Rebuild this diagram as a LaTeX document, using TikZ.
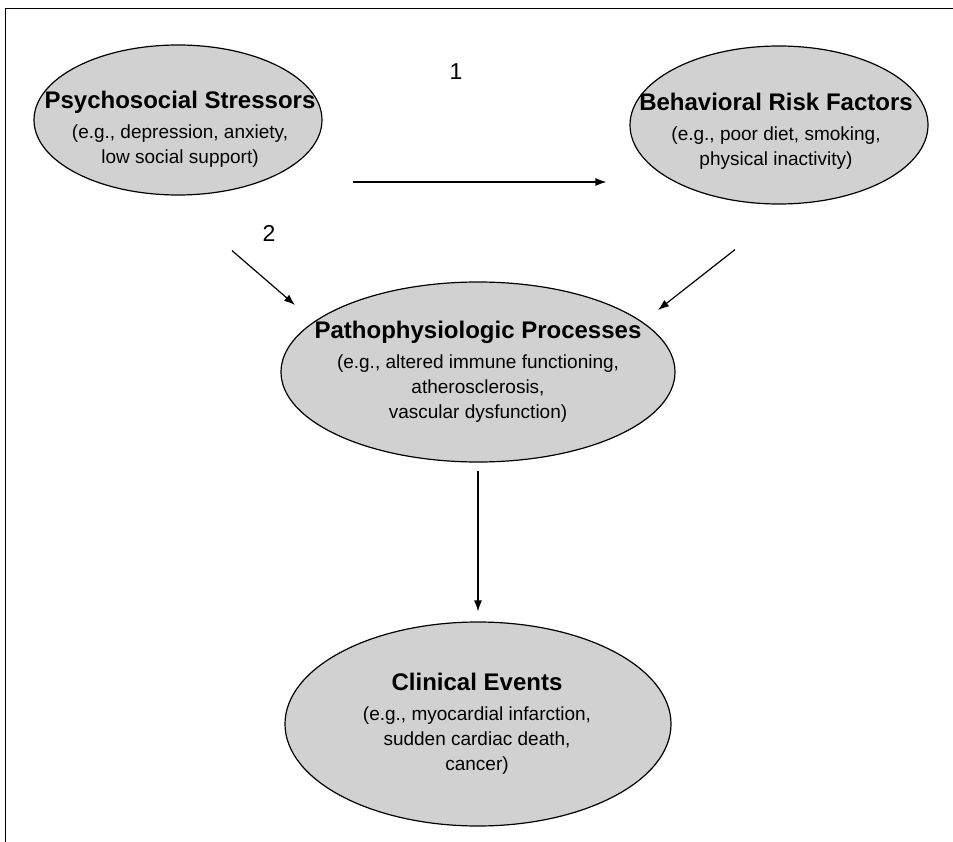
\documentclass[tikz,border=0pt]{standalone}
\usepackage{fontspec}
\setmainfont{Liberation Sans}
\usetikzlibrary{shapes.geometric, arrows.meta, calc, positioning}
\newcommand{\stagetitle}[1]{{\fontsize{24}{26}\selectfont\bfseries #1}\\[5pt]}

\begin{document}
\begin{tikzpicture}[x=1pt, y=-1pt, line width=1.2pt, >={Latex[length=11pt, width=8pt]},
                    stage/.style={ellipse, draw, fill=black!18, inner sep=0pt},
                    stagetext/.style={align=center, inner sep=0pt, font=\fontsize{19}{25}\selectfont},
                    numlabel/.style={font=\fontsize{23}{25}\selectfont}]
    \useasboundingbox (0,0) rectangle (953,842);

    % Frame
    \draw[line width=0.8pt] (953,8) -- (5,8) -- (5,842);

    % Ellipses
    \node[stage, minimum width=288pt, minimum height=150pt] (stress) at (178,120) {};
    \node[stage, minimum width=298pt, minimum height=158pt] (behav) at (779,125) {};
    \node[stage, minimum width=394pt, minimum height=180pt] (patho) at (478,372) {};
    \node[stage, minimum width=386pt, minimum height=204pt] (clinic) at (478,724) {};

    % Texts
    \node[stagetext] (stresstxt) at (180,129) {\stagetitle{Psychosocial Stressors}
        (e.g., depression, anxiety,\\ low social support)};
    \node[stagetext] (behavtxt) at (776,131) {\stagetitle{Behavioral Risk Factors}
        (e.g., poor diet, smoking,\\ physical inactivity)};
    \node[stagetext] (pathotxt) at (478,372) {\stagetitle{Pathophysiologic Processes}
        (e.g., altered immune functioning,\\ atherosclerosis,\\ vascular dysfunction)};
    \node[stagetext] (clinictxt) at (477,724) {\stagetitle{Clinical Events}
        (e.g., myocardial infarction,\\ sudden cardiac death,\\ cancer)};

    % Arrow ends
    \coordinate (p1s) at ($(stress.east)+(30,62)$);
    \coordinate (p1e) at ($(behav.west)+(-23,57)$);
    \coordinate (p2s) at ($(stress.south)+(54,55)$);
    \coordinate (p2e) at ($(patho.center)+(-183,-67)$);
    \coordinate (p3s) at ($(behav.south)+(-44,45)$);
    \coordinate (p3e) at ($(patho.center)+(180,-62)$);

    % Arrows
    \draw[->] (p1s) -- (p1e);
    \draw[->] (p2s) -- (p2e);
    \draw[->] (p3s) -- (p3e);
    \draw[->, shorten <=8pt, shorten >=10pt] (patho.south) -- (clinic.north);

    % Labels
    \node[numlabel] (one) at (456,72) {1};
    \node[numlabel] (two) at (269,233) {2};
\end{tikzpicture}
\end{document}
